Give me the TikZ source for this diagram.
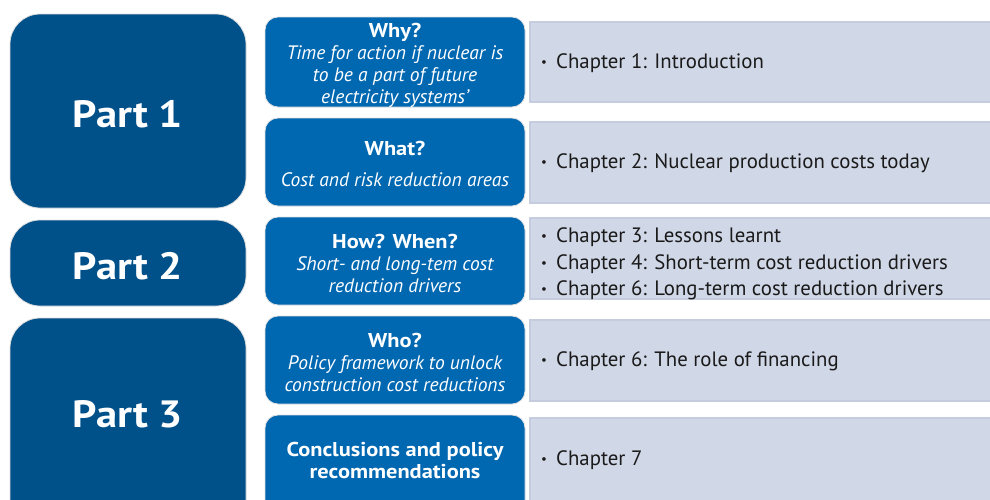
\documentclass[tikz,border=0pt]{standalone}
\usepackage{fontspec}
\setmainfont{PT Sans}
\newfontfamily\bfwide{PT Sans Bold}[FakeStretch=1.12]
\definecolor{partblue}{HTML}{00508A}
\definecolor{midblue}{HTML}{0067B1}
\definecolor{chapbg}{HTML}{D0D7E6}
\definecolor{chapedge}{HTML}{C4CCDE}
\definecolor{chaptext}{HTML}{1A1A1A}
\begin{document}
\begin{tikzpicture}[x=1pt,y=-1pt,
  partbox/.style={fill=partblue, draw=gray!25, line width=0.8pt, rounded corners=30pt, inner sep=0pt},
  parttext/.style={text=white, font=\fontsize{38}{44}\selectfont\bfwide},
  midbox/.style={fill=midblue, draw=gray!25, line width=0.8pt, rounded corners=13pt, minimum width=260pt, inner sep=0pt, text=white, align=center, font=\fontsize{19.5}{22}\selectfont},
  chapbox/.style={fill=chapbg, draw=chapedge, line width=1.5pt, inner sep=0pt},
  chaptext/.style={anchor=west, text=chaptext, font=\fontsize{20.8}{26.5}\selectfont, align=left, inner sep=0pt}
]
\newcommand\hdtext[1]{{\fontsize{20}{22}\selectfont\bfwide #1}}
\newcommand\bul{\makebox[15pt][l]{\fontsize{13}{13}\selectfont\raisebox{1.8pt}{•}}}
\useasboundingbox (0,0) rectangle (990,499);
\clip (0,0) rectangle (990,499);

% Part boxes
\node[partbox, minimum width=236pt, minimum height=194pt] (p1) at (128,111) {};
\node[partbox, minimum width=236pt, minimum height=86pt] (p2) at (128,263) {};
\node[partbox, minimum width=236pt, minimum height=222pt] (p3) at (128,429) {};
\node[parttext] (p1t) at (128,114) {Part 1};
\node[parttext] (p2t) at (128,266) {Part 2};
\node[parttext] (p3t) at (128,414) {Part 3};

% Chapter boxes
\node[chapbox, minimum width=470pt, minimum height=80pt] (c1) at (765,62) {};
\node[chapbox, minimum width=470pt, minimum height=81pt] (c2) at (765,162.5) {};
\node[chapbox, minimum width=470pt, minimum height=81pt] (c3) at (765,258.5) {};
\node[chapbox, minimum width=470pt, minimum height=81pt] (c4) at (765,360.5) {};
\node[chapbox, minimum width=470pt, minimum height=110pt] (c5) at (765,473) {};

% Middle boxes
\node[midbox, minimum height=90pt] (m1) at (395,62) {};
\node[midbox, minimum height=88pt] (m2) at (395,162) {};
\node[midbox, minimum height=88pt] (m3) at (395,261) {};
\node[midbox, minimum height=88pt] (m4) at (395,360) {};
\node[midbox, minimum height=130pt] (m5) at (395,480) {};

\node[midbox, fill=none, draw=none] (m1t) at (395,65) {\hdtext{Why?}\\ \itshape Time for action if nuclear is\\ \itshape to be a part of future\\ \itshape electricity systems’};
\node[midbox, fill=none, draw=none] (m2t) at (395,164) {\hdtext{What?}\\[9pt] \itshape Cost and risk reduction areas};
\node[midbox, fill=none, draw=none] (m3t) at (395,263) {\hdtext{How? When?}\\ \itshape Short- and long-tem cost\\ \itshape reduction drivers};
\node[midbox, fill=none, draw=none] (m4t) at (395,362) {\hdtext{Who?}\\ \itshape Policy framework to unlock\\ \itshape construction cost reductions};
\node[midbox, fill=none, draw=none] (m5t) at (395,460.5) {\hdtext{Conclusions and policy}\\ \hdtext{recommendations}};

% Chapter texts
\node[chaptext] (t1) at (541,63) {\bul Chapter 1: Introduction};
\node[chaptext] (t2) at (541,163) {\bul Chapter 2: Nuclear production costs today};
\node[chaptext] (t3) at (541,264) {\bul Chapter 3: Lessons learnt\\ \bul Chapter 4: Short-term cost reduction drivers\\ \bul Chapter 6: Long-term cost reduction drivers};
\node[chaptext] (t4) at (541,361) {\bul Chapter 6: The role of financing};
\node[chaptext] (t5) at (541,460) {\bul Chapter 7};
\end{tikzpicture}
\end{document}
